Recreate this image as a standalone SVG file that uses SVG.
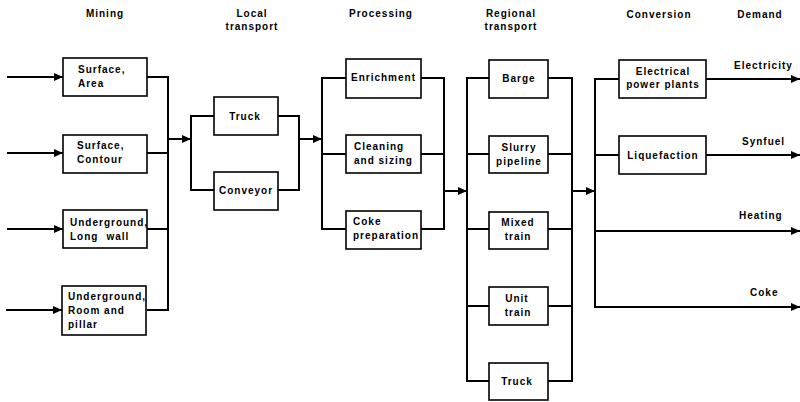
<svg xmlns="http://www.w3.org/2000/svg" width="800" height="402" viewBox="0 0 800 402">
<defs>
<marker id="ah" markerWidth="9" markerHeight="8" refX="9" refY="4" orient="auto" markerUnits="userSpaceOnUse">
<path d="M0,0 L9,4 L0,8 Z" fill="#000"/>
</marker>
<style>
.box{fill:#fff;stroke:#000;stroke-width:1.6}
.ln{fill:none;stroke:#000;stroke-width:2}
.ar{fill:none;stroke:#000;stroke-width:2;marker-end:url(#ah)}
text{font-family:"Liberation Sans",Arial,sans-serif;font-weight:bold;font-size:10px;fill:#000;letter-spacing:1px}
.h{text-anchor:middle}
.c{text-anchor:middle}
</style>
</defs>
<rect width="800" height="402" fill="#fff"/>
<g id="headers">
<text class="h" x="105" y="17">Mining</text>
<text class="h" x="252" y="17">Local</text>
<text class="h" x="252" y="30">transport</text>
<text class="h" x="381" y="17">Processing</text>
<text class="h" x="511" y="17">Regional</text>
<text class="h" x="511" y="30">transport</text>
<text class="h" x="659" y="18">Conversion</text>
<text class="h" x="760" y="18">Demand</text>
</g>
<g id="connectors">
<line class="ar" x1="7" y1="77" x2="63" y2="77"/>
<line class="ar" x1="7" y1="153" x2="63" y2="153"/>
<line class="ar" x1="7" y1="229" x2="63" y2="229"/>
<line class="ar" x1="6" y1="310" x2="62" y2="310"/>
<polyline class="ln" points="147,77 168,77 168,310 147,310"/>
<line class="ln" x1="147" y1="153" x2="168" y2="153"/>
<line class="ln" x1="147" y1="229" x2="168" y2="229"/>
<line class="ar" x1="168" y1="139" x2="191" y2="139"/>
<polyline class="ln" points="214,116 191,116 191,190 214,190"/>
<polyline class="ln" points="278,116 299,116 299,190 278,190"/>
<line class="ar" x1="299" y1="139" x2="322" y2="139"/>
<polyline class="ln" points="346,78 322,78 322,229 346,229"/>
<line class="ln" x1="322" y1="154" x2="346" y2="154"/>
<polyline class="ln" points="421,78 444,78 444,229 421,229"/>
<line class="ln" x1="421" y1="154" x2="444" y2="154"/>
<line class="ar" x1="444" y1="191" x2="467" y2="191"/>
<polyline class="ln" points="489,78 467,78 467,381 489,381"/>
<line class="ln" x1="467" y1="154" x2="489" y2="154"/>
<line class="ln" x1="467" y1="229" x2="489" y2="229"/>
<line class="ln" x1="467" y1="306" x2="489" y2="306"/>
<polyline class="ln" points="548,78 572,78 572,381 548,381"/>
<line class="ln" x1="548" y1="154" x2="572" y2="154"/>
<line class="ln" x1="548" y1="229" x2="572" y2="229"/>
<line class="ln" x1="548" y1="306" x2="572" y2="306"/>
<line class="ar" x1="572" y1="191" x2="595" y2="191"/>
<polyline class="ln" points="619,79 595,79 595,307"/>
<line class="ln" x1="595" y1="155" x2="619" y2="155"/>
<line class="ar" x1="706" y1="79" x2="800" y2="79"/>
<line class="ar" x1="706" y1="155" x2="800" y2="155"/>
<line class="ar" x1="595" y1="231" x2="800" y2="231"/>
<line class="ar" x1="594" y1="307" x2="800" y2="307"/>
</g>
<g id="surface-area"><rect class="box" x="63" y="58" width="84" height="38"/><text x="78" y="73">Surface,</text><text x="78" y="87">Area</text></g>
<g id="surface-contour"><rect class="box" x="63" y="135" width="84" height="38"/><text x="77" y="149">Surface,</text><text x="77" y="163">Contour</text></g>
<g id="underground-longwall"><rect class="box" x="63" y="210" width="84" height="38"/><text x="70" y="226">Underground,</text><text x="70" y="240">Long<tspan dx="8">wall</tspan></text></g>
<g id="underground-room"><rect class="box" x="62" y="286" width="84" height="49"/><text x="68" y="300">Underground,</text><text x="68" y="314">Room and</text><text x="68" y="328">pillar</text></g>
<g id="truck-local"><rect class="box" x="214" y="97" width="64" height="38"/><text class="c" x="245" y="120">Truck</text></g>
<g id="conveyor"><rect class="box" x="214" y="172" width="64" height="38"/><text class="c" x="246" y="194">Conveyor</text></g>
<g id="enrichment"><rect class="box" x="346" y="59" width="75" height="39"/><text x="351" y="81">Enrichment</text></g>
<g id="cleaning"><rect class="box" x="346" y="135" width="75" height="38"/><text x="354" y="150">Cleaning</text><text x="354" y="164">and sizing</text></g>
<g id="coke-prep"><rect class="box" x="346" y="211" width="75" height="38"/><text x="353" y="225">Coke</text><text x="353" y="239">preparation</text></g>
<g id="barge"><rect class="box" x="489" y="60" width="59" height="38"/><text class="c" x="519" y="82">Barge</text></g>
<g id="slurry"><rect class="box" x="489" y="136" width="59" height="37"/><text class="c" x="519" y="151">Slurry</text><text class="c" x="519" y="165">pipeline</text></g>
<g id="mixed-train"><rect class="box" x="489" y="212" width="59" height="37"/><text class="c" x="518" y="226">Mixed</text><text class="c" x="518" y="240">train</text></g>
<g id="unit-train"><rect class="box" x="489" y="287" width="59" height="38"/><text class="c" x="517" y="302">Unit</text><text class="c" x="518" y="316">train</text></g>
<g id="truck-regional"><rect class="box" x="489" y="363" width="59" height="37"/><text class="c" x="517" y="385">Truck</text></g>
<g id="power-plants"><rect class="box" x="619" y="60" width="87" height="38"/><text class="c" x="663" y="75">Electrical</text><text class="c" x="663" y="88">power plants</text></g>
<g id="liquefaction"><rect class="box" x="619" y="136" width="87" height="38"/><text class="c" x="663" y="159">Liquefaction</text></g>
<g id="demand-labels">
<text x="734" y="69">Electricity</text>
<text x="742" y="145">Synfuel</text>
<text x="739" y="219">Heating</text>
<text x="750" y="296">Coke</text>
</g>
</svg>
